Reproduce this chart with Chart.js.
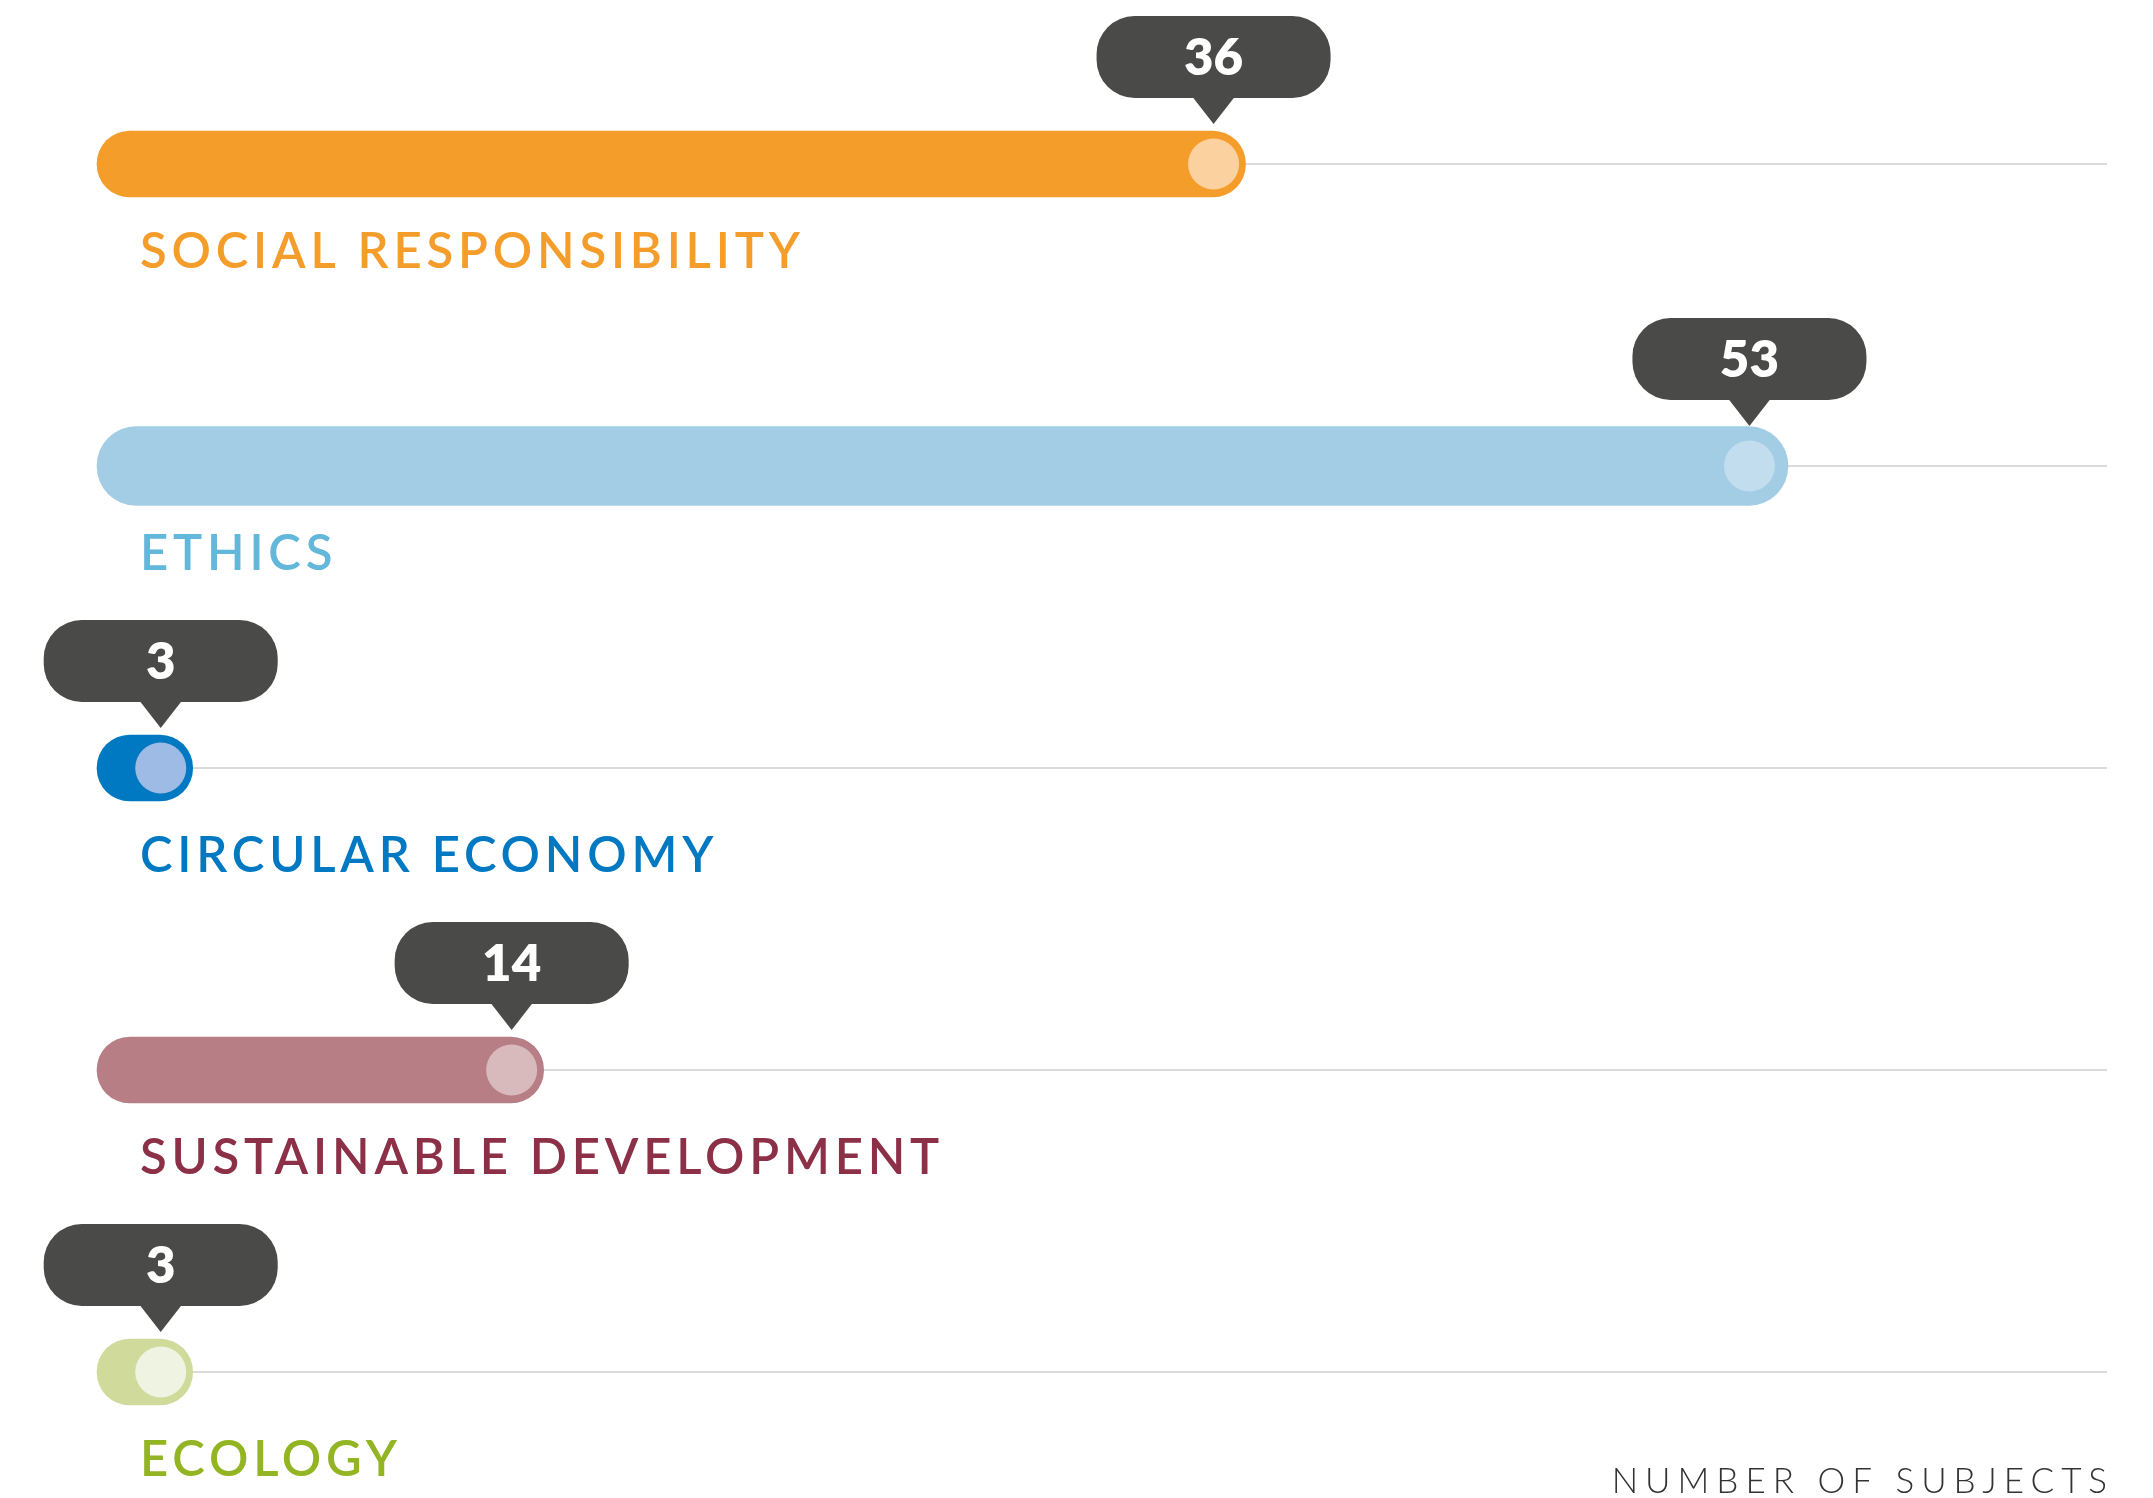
<!DOCTYPE html>
<html><head><meta charset="utf-8">
<script src="https://cdn.jsdelivr.net/npm/chart.js@4.4.1/dist/chart.umd.min.js"></script>
<style>html,body{margin:0;padding:0;background:#fff;overflow:hidden}canvas{display:block}</style>
</head><body>
<canvas id="c" width="2153" height="1498"></canvas>
<script>
// ---- data ----
const categories = ['SOCIAL RESPONSIBILITY', 'ETHICS', 'CIRCULAR ECONOMY', 'SUSTAINABLE DEVELOPMENT', 'ECOLOGY'];
const values = [36, 53, 3, 14, 3];
const axisTitle = 'NUMBER OF SUBJECTS';
const xMax = 63;

// ---- styles ----
const barColors   = ['#f59d2b', '#a2cde5', '#0079c2', '#b77f85', '#d0da9b'];
const knobColors  = ['#fcd1a0', '#c1ddee', '#9dbbe5', '#d8babd', '#eff3e2'];
const labelColors = ['#f59d2b', '#63b7da', '#0079c2', '#8c3048', '#93b524'];
const thickIndex = 1;
const bubbleColor = '#4a4a48';
const gridColor = '#dcdcdc';

const thinData = values.map((v, i) => i === thickIndex ? null : v);
const thickData = values.map((v, i) => i === thickIndex ? v : null);

function barEl(chart, i) {
  const ds = i === thickIndex ? 1 : 0;
  return chart.getDatasetMeta(ds).data[i];
}

function roundRect(ctx, x, y, w, h, r) {
  ctx.beginPath();
  ctx.moveTo(x + r, y);
  ctx.lineTo(x + w - r, y);
  ctx.arcTo(x + w, y, x + w, y + r, r);
  ctx.lineTo(x + w, y + h - r);
  ctx.arcTo(x + w, y + h, x + w - r, y + h, r);
  ctx.lineTo(x + r, y + h);
  ctx.arcTo(x, y + h, x, y + h - r, r);
  ctx.lineTo(x, y + r);
  ctx.arcTo(x, y, x + r, y, r);
  ctx.closePath();
}

const decor = {
  id: 'decor',
  beforeDatasetsDraw(chart) {
    const ctx = chart.ctx, xs = chart.scales.x, area = chart.chartArea;
    ctx.save();
    ctx.strokeStyle = gridColor;
    ctx.lineWidth = 2;
    values.forEach((v, i) => {
      const el = barEl(chart, i);
      const y = Math.round(el.y);
      ctx.beginPath();
      ctx.moveTo(xs.getPixelForValue(0), y);
      ctx.lineTo(area.right, y);
      ctx.stroke();
    });
    ctx.restore();
  },
  afterDatasetsDraw(chart) {
    const ctx = chart.ctx, xs = chart.scales.x;
    ctx.save();
    values.forEach((v, i) => {
      const el = barEl(chart, i);
      const half = el.height / 2;
      const kx = el.x - half + 1, ky = el.y;
      // knob
      ctx.fillStyle = knobColors[i];
      ctx.beginPath();
      ctx.arc(kx, ky, 25.5, 0, Math.PI * 2);
      ctx.fill();
      // bubble
      const bw = 234, bh = 82, by = ky - 107;
      ctx.fillStyle = bubbleColor;
      roundRect(ctx, kx - bw / 2, by - bh / 2, bw, bh, 38);
      ctx.fill();
      ctx.beginPath();
      ctx.moveTo(kx - 21, by + bh / 2 - 1);
      ctx.lineTo(kx + 21, by + bh / 2 - 1);
      ctx.lineTo(kx, ky - 40);
      ctx.closePath();
      ctx.fill();
      ctx.fillStyle = '#ffffff';
      ctx.font = '800 51px Lato';
      ctx.textAlign = 'center';
      ctx.textBaseline = 'alphabetic';
      ctx.letterSpacing = '0px';
      ctx.fillText(String(v), kx, by + 18);
      // label
      ctx.fillStyle = labelColors[i];
      ctx.font = '600 49px Lato';
      ctx.textAlign = 'left';
      ctx.letterSpacing = '4.8px';
      ctx.fillText(categories[i], xs.getPixelForValue(0) + 43, ky + 104);
    });
    // axis title
    ctx.fillStyle = '#333333';
    ctx.font = '300 35px Lato';
    ctx.letterSpacing = '7px';
    ctx.textAlign = 'left';
    const w = ctx.measureText(axisTitle).width;
    ctx.fillText(axisTitle, chart.chartArea.right - w + 7, 1493);
    ctx.restore();
  }
};

new Chart(document.getElementById('c'), {
  type: 'bar',
  data: {
    labels: categories,
    datasets: [
      { data: thinData, backgroundColor: barColors, barThickness: 66, borderRadius: 33, borderSkipped: false, grouped: false, clip: false },
      { data: thickData, backgroundColor: barColors, barThickness: 79, borderRadius: 40, borderSkipped: false, grouped: false, clip: false }
    ]
  },
  options: {
    indexAxis: 'y',
    responsive: false,
    animation: false,
    events: [],
    layout: { padding: { left: 97, right: 46, top: 164, bottom: 126 } },
    scales: {
      x: { type: 'linear', min: 0, max: xMax, display: false },
      y: { type: 'category', offset: false, display: false }
    },
    plugins: { legend: { display: false }, tooltip: { enabled: false } }
  },
  plugins: [decor]
});
</script>
</body></html>
